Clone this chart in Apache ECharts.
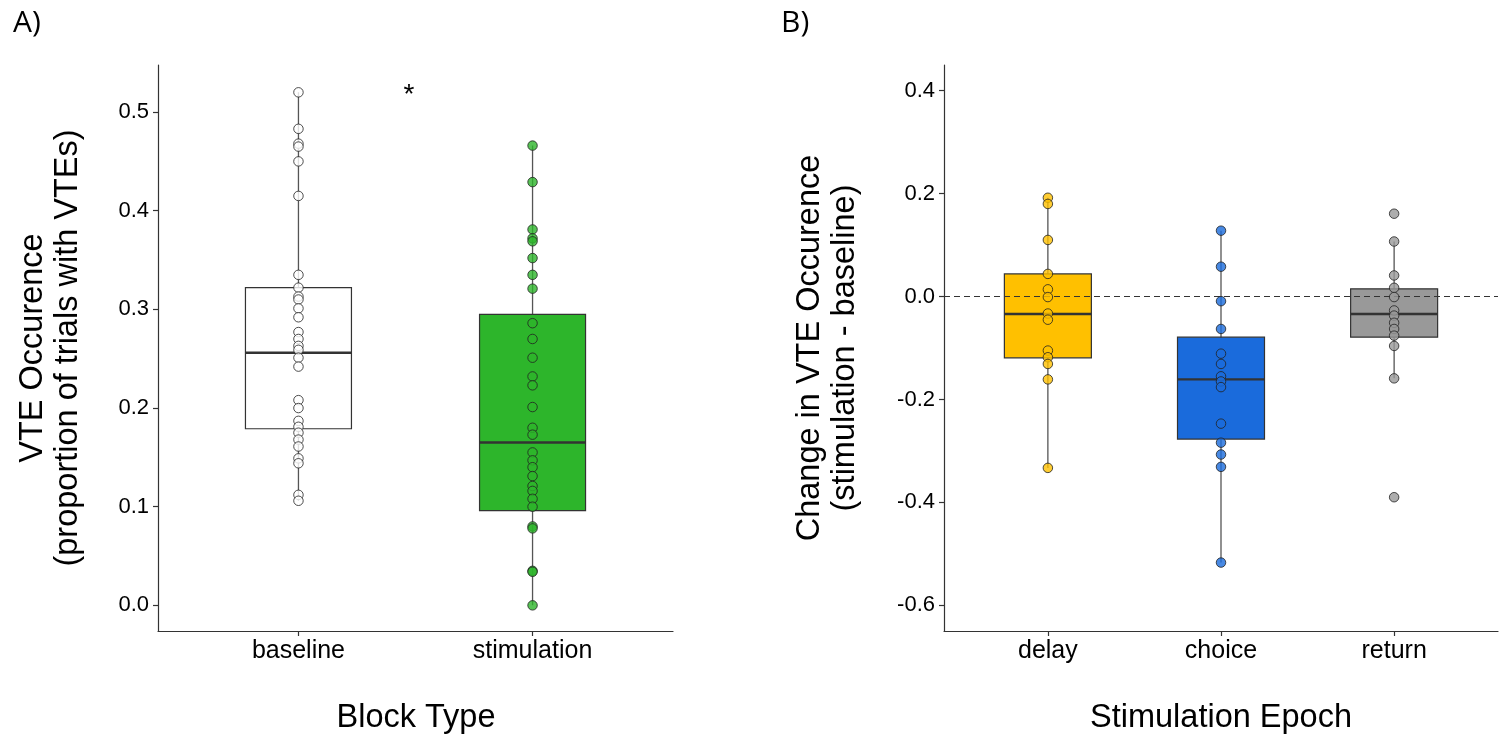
<!DOCTYPE html>
<html>
<head>
<meta charset="utf-8">
<script src="https://cdn.jsdelivr.net/npm/echarts@6/dist/echarts.min.js"></script>
<style>
html,body{margin:0;padding:0;background:#fff;}
#chart{width:1508px;height:736px;}
</style>
</head>
<body>
<div id="chart"></div>
<script>
// ---------- Panel A data ----------
const panelACategories = ['baseline', 'stimulation'];
const baselineValues = [0.52, 0.483, 0.468, 0.465, 0.45, 0.415, 0.335, 0.322, 0.313, 0.31, 0.301, 0.292, 0.277, 0.27, 0.263, 0.259, 0.251, 0.242, 0.208, 0.2, 0.187, 0.181, 0.175, 0.168, 0.161, 0.149, 0.144, 0.112, 0.106];
const stimulationValues = [0.466, 0.429, 0.381, 0.372, 0.369, 0.352, 0.335, 0.321, 0.286, 0.27, 0.251, 0.232, 0.223, 0.201, 0.18, 0.173, 0.155, 0.147, 0.14, 0.131, 0.121, 0.116, 0.108, 0.1, 0.08, 0.078, 0.035, 0.034, 0.0];
// [whisker low, Q1, median, Q3, whisker high]
const baselineBox = [0.106, 0.179, 0.256, 0.322, 0.52];
const stimulationBox = [0.0, 0.096, 0.165, 0.295, 0.466];
const panelATicks = [0, 0.1, 0.2, 0.3, 0.4, 0.5];

// ---------- Panel B data ----------
const panelBCategories = ['delay', 'choice', 'return'];
const delayValues = [0.192, 0.18, 0.11, 0.044, 0.014, -0.001, -0.033, -0.045, -0.105, -0.118, -0.131, -0.161, -0.333];
const choiceValues = [0.128, 0.058, -0.009, -0.063, -0.111, -0.131, -0.155, -0.165, -0.176, -0.247, -0.284, -0.307, -0.331, -0.517];
const returnValues = [0.161, 0.107, 0.041, 0.017, -0.001, -0.027, -0.037, -0.051, -0.063, -0.076, -0.096, -0.159, -0.39];
const delayBox = [-0.333, -0.119, -0.034, 0.044, 0.192];
const choiceBox = [-0.517, -0.277, -0.161, -0.079, 0.128];
const returnBox = [-0.159, -0.079, -0.034, 0.015, 0.107];
const panelBTicks = [-0.6, -0.4, -0.2, 0, 0.2, 0.4];

// ---------- styling ----------
const colorsA = ['#ffffff', '#2db52b'];
const colorsB = ['#ffc000', '#1a6bdc', '#999999'];
const FONT = '"Liberation Sans", Arial, sans-serif';

const chart = echarts.init(document.getElementById('chart'));

function boxRenderer(boxW, colors) {
  return function (params, api) {
    const x = api.value(0);
    const lo = api.coord([x, api.value(1)]);
    const q1 = api.coord([x, api.value(2)]);
    const md = api.coord([x, api.value(3)]);
    const q3 = api.coord([x, api.value(4)]);
    const hi = api.coord([x, api.value(5)]);
    const cx = lo[0], hw = boxW / 2;
    return {
      type: 'group',
      children: [
        {type: 'line', shape: {x1: cx, y1: hi[1], x2: cx, y2: lo[1]}, style: {stroke: '#555', lineWidth: 1.3}},
        {type: 'rect', shape: {x: cx - hw, y: q3[1], width: boxW, height: q1[1] - q3[1]}, style: {fill: colors[params.dataIndex], stroke: '#333', lineWidth: 1.2}},
        {type: 'line', shape: {x1: cx - hw, y1: md[1], x2: cx + hw, y2: md[1]}, style: {stroke: '#333', lineWidth: 2.4}}
      ]
    };
  };
}

function pts(xv, arr) { return arr.map(v => [xv, v]); }

const boxDataA = [[1].concat(baselineBox), [2].concat(stimulationBox)];
const boxDataB = [[1].concat(delayBox), [2].concat(choiceBox), [3].concat(returnBox)];

const axisLineStyle = {color: '#333', width: 1.2};

function xAxisFor(gridIndex, cats) {
  const vals = cats.map((c, i) => i + 1);
  return {
    type: 'value', gridIndex: gridIndex, min: 0.4, max: cats.length + 0.6,
    axisLine: {show: true, onZero: false, lineStyle: axisLineStyle},
    axisTick: {show: true, length: 5, customValues: vals, lineStyle: axisLineStyle},
    axisLabel: {customValues: vals, margin: 8, formatter: v => cats[Math.round(v) - 1] || '',
                fontFamily: FONT, fontSize: 25, color: '#000'},
    splitLine: {show: false}
  };
}
function yAxisFor(gridIndex, mn, mx, ticks) {
  return {
    type: 'value', gridIndex: gridIndex, min: mn, max: mx,
    axisLine: {show: true, onZero: false, lineStyle: axisLineStyle},
    axisTick: {show: true, length: 5, customValues: ticks, lineStyle: axisLineStyle},
    axisLabel: {customValues: ticks, margin: 9, formatter: v => (Math.abs(v) < 1e-9 ? 0 : v).toFixed(1),
                fontFamily: FONT, fontSize: 22, color: '#000'},
    splitLine: {show: false}
  };
}

const scatterStyle = c => ({color: c, borderColor: '#222', borderWidth: 1});
const titleFont = '32.5px ' + FONT;

const option = {
  animation: false,
  backgroundColor: '#fff',
  grid: [
    {left: 158, top: 65, width: 515, height: 566},
    {left: 944, top: 65, width: 554, height: 566}
  ],
  xAxis: [xAxisFor(0, panelACategories), xAxisFor(1, panelBCategories)],
  yAxis: [yAxisFor(0, -0.026, 0.5477, panelATicks), yAxisFor(1, -0.65, 0.45, panelBTicks)],
  series: [
    {type: 'custom', xAxisIndex: 0, yAxisIndex: 0, data: boxDataA, renderItem: boxRenderer(106, colorsA),
     encode: {x: 0, y: [1, 2, 3, 4, 5]}, z: 2},
    {type: 'scatter', xAxisIndex: 0, yAxisIndex: 0, data: pts(1, baselineValues), symbolSize: 9.5, itemStyle: scatterStyle(colorsA[0]), z: 5},
    {type: 'scatter', xAxisIndex: 0, yAxisIndex: 0, data: pts(2, stimulationValues), symbolSize: 9.5, itemStyle: scatterStyle(colorsA[1]), z: 5},
    {type: 'custom', xAxisIndex: 1, yAxisIndex: 1, data: boxDataB, renderItem: boxRenderer(87, colorsB),
     encode: {x: 0, y: [1, 2, 3, 4, 5]}, z: 2,
     markLine: {silent: true, symbol: 'none', label: {show: false}, lineStyle: {color: '#333', type: [6, 4], width: 1.2}, data: [{yAxis: 0}]}},
    {type: 'scatter', xAxisIndex: 1, yAxisIndex: 1, data: pts(1, delayValues), symbolSize: 9.5, itemStyle: scatterStyle(colorsB[0]), z: 5},
    {type: 'scatter', xAxisIndex: 1, yAxisIndex: 1, data: pts(2, choiceValues), symbolSize: 9.5, itemStyle: scatterStyle(colorsB[1]), z: 5},
    {type: 'scatter', xAxisIndex: 1, yAxisIndex: 1, data: pts(3, returnValues), symbolSize: 9.5, itemStyle: scatterStyle(colorsB[2]), z: 5}
  ],
  graphic: [
    {type: 'text', x: 13, y: 23, style: {text: 'A)', font: '30px "Open Sans", sans-serif', fill: '#000', textVerticalAlign: 'middle'}},
    {type: 'text', x: 781, y: 23, style: {text: 'B)', font: '30px "Open Sans", sans-serif', fill: '#000', textVerticalAlign: 'middle'}},
    {type: 'text', x: 409, y: 95, style: {text: '*', font: '28px ' + FONT, fill: '#000', textAlign: 'center', textVerticalAlign: 'middle'}},
    {type: 'text', x: 416, y: 718, style: {text: 'Block Type', font: titleFont, fill: '#000', textAlign: 'center', textVerticalAlign: 'middle'}},
    {type: 'text', x: 1221, y: 718, style: {text: 'Stimulation Epoch', font: titleFont, fill: '#000', textAlign: 'center', textVerticalAlign: 'middle'}},
    {type: 'text', x: 33, y: 348, rotation: Math.PI / 2, style: {text: 'VTE Occurence', font: titleFont, fill: '#000', textAlign: 'center', textVerticalAlign: 'middle'}},
    {type: 'text', x: 68, y: 348, rotation: Math.PI / 2, style: {text: '(proportion of trials with VTEs)', font: titleFont, fill: '#000', textAlign: 'center', textVerticalAlign: 'middle'}},
    {type: 'text', x: 810, y: 348, rotation: Math.PI / 2, style: {text: 'Change in VTE Occurence', font: titleFont, fill: '#000', textAlign: 'center', textVerticalAlign: 'middle'}},
    {type: 'text', x: 845, y: 348, rotation: Math.PI / 2, style: {text: '(stimulation - baseline)', font: titleFont, fill: '#000', textAlign: 'center', textVerticalAlign: 'middle'}}
  ]
};
chart.setOption(option);
</script>
</body>
</html>
